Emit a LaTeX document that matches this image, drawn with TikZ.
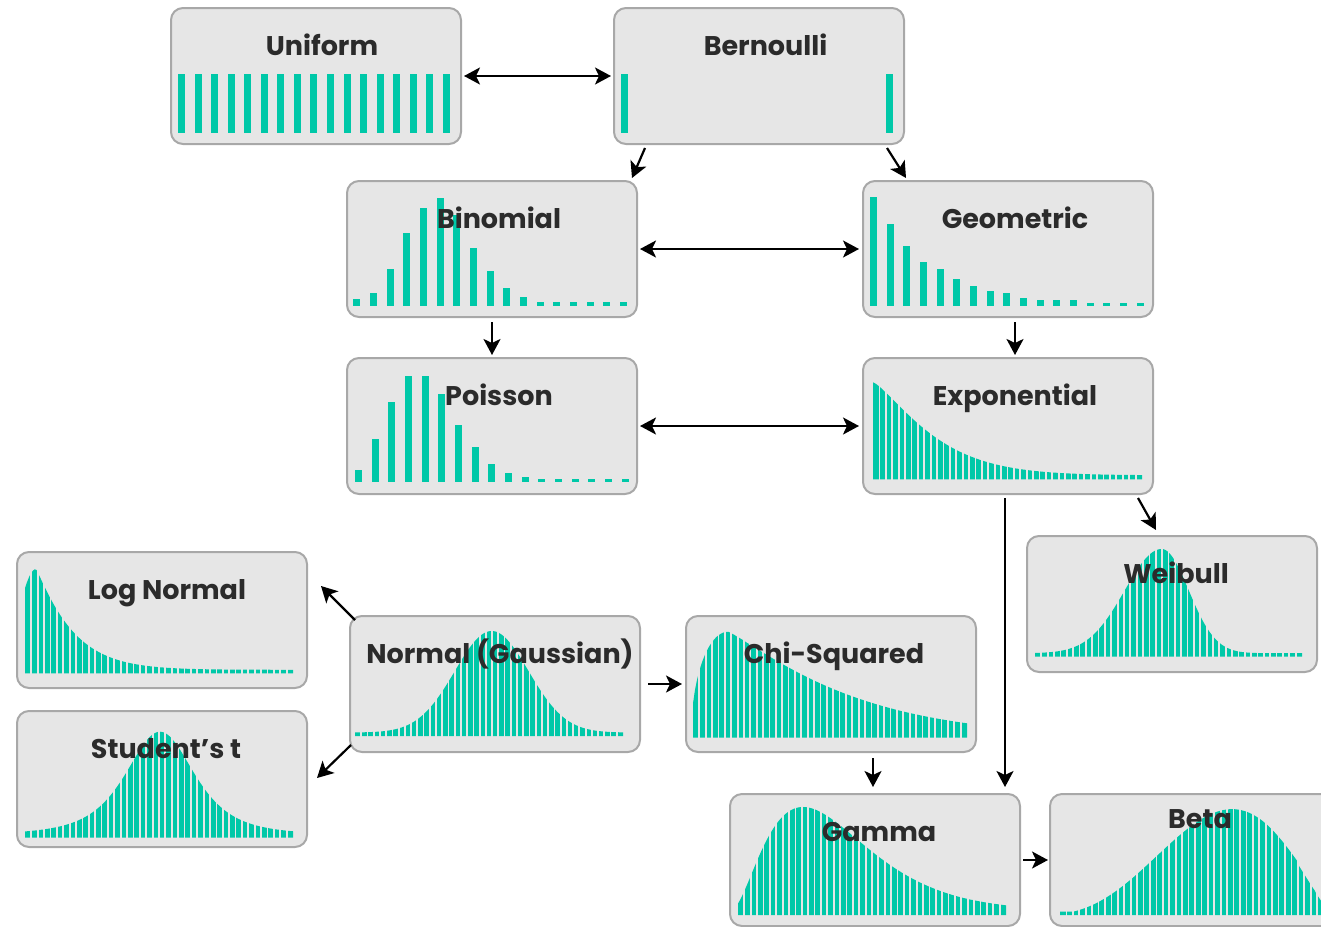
\documentclass[tikz,border=0pt]{standalone}
\usepackage{fontspec}
\setmainfont{Poppins}
\usetikzlibrary{arrows.meta,calc}

\definecolor{barteal}{RGB}{0,200,168}
\definecolor{boxfill}{RGB}{230,230,230}
\definecolor{boxedge}{RGB}{168,168,168}
\definecolor{labelink}{RGB}{43,43,43}

\tikzset{
  distbox/.style={draw=boxedge, line width=2pt, fill=boxfill, rounded corners=12pt,
    minimum width=290pt, minimum height=136pt, inner sep=0pt, anchor=north west},
  distlabel/.style={font=\fontsize{27}{33}\selectfont\bfseries, text=labelink,
    inner sep=0pt, anchor=base},
  bar/.style={fill=barteal},
  bargap/.style={draw=boxfill, line width=1.8pt},
  link/.style={line width=2.2pt, draw=black},
  >={Stealth[length=16pt,width=17pt,inset=4pt]}
}

% discrete bars: first left edge, pitch, baseline, list of heights
\newcommand\discbars[4]{%
  \foreach \hh [count=\k from 0] in {#4} {
    \fill[bar] ({#1+\k*#2},#3) rectangle ++(7,-\hh);
  }}

% dense bars: left edge, right edge, baseline, height function, number of bars
\newcommand\contbars[5]{%
  \fill[bar] (#1,#3) -- plot[domain=#1:#2, samples=140] (\x,{#3-#4(\x)}) -- (#2,#3) -- cycle;
  \pgfmathtruncatemacro\lastgap{#5-1}
  \foreach \k in {1,...,\lastgap} {
    \draw[bargap] ({#1+\k*(#2-#1)/#5},#3+1) -- ++(0,-112);
  }}

\begin{document}
\begin{tikzpicture}[x=1pt,y=-1pt,
  declare function={
    expof(\x)=4+93*exp(-pow(max(\x-873,0.01)/68,1.29));
    lognf(\x)=(\x<36) ? 3.5+100.8*exp(-((\x-36)/24)*((\x-36)/24)) : 3.5+100.8*exp(-pow(max(\x-36,0.01)/38,1.1));
    studf(\x)=3+103/((1+((\x-160)/63)*((\x-160)/63))*(1+((\x-160)/63)*((\x-160)/63)));
    normf(\x)=3.5+101.5*exp(-((\x-491.7)/52)*((\x-491.7)/52));
    weibf(\x)=(\x<1161.7) ? 3.5+104.2*exp(-((\x-1161.7)/52)*((\x-1161.7)/52)) : 3.5+104.2*exp(-((\x-1161.7)/38)*((\x-1161.7)/38));
    chisf(\x)=(\x<728) ? 106*sqrt(max(0,1-((\x-728)/37)*((\x-728)/37))) : 106*exp(-pow(max(\x-728,0.01)/131,1.15));
    gammf(\x)=4+104*((\x-730)/73)*((\x-730)/73)*exp(2-(\x-730)/36.5);
    betaf(\x)=max(3.5,106*pow((\x-1035)/300,3)*pow(1-(\x-1035)/300,1.566)/0.05315);
  }]
\clip (0,0) rectangle (1321,926);

% boxes
\node[distbox] (uni) at (170,7) {};
\node[distbox] (bern) at (613,7) {};
\node[distbox] (binom) at (346,180) {};
\node[distbox] (geom) at (862,180) {};
\node[distbox] (pois) at (346,357) {};
\node[distbox] (expo) at (862,357) {};
\node[distbox] (weib) at (1026,535) {};
\node[distbox] (lognorm) at (16,551) {};
\node[distbox] (stud) at (16,710) {};
\node[distbox] (norm) at (349,615) {};
\node[distbox] (chi) at (685,615) {};
\node[distbox, minimum height=132pt] (gamma) at (729,793) {};
\node[distbox, minimum height=132pt] (beta) at (1049,793) {};

% discrete distributions
\discbars{178}{16.56}{133}{59,59,59,59,59,59,59,59,59,59,59,59,59,59,59,59,59}
\fill[bar] (621,133) rectangle ++(7,-59);
\fill[bar] (886,133) rectangle ++(7,-59);
\discbars{353.3}{16.67}{306}{6.7,13.3,37,72.7,98,108,91,58.3,35,18.3,8.7,3.7,3.7,3.7,3.7,3.7,3.7}
\discbars{870}{16.67}{305.7}{108.3,81.3,60,43.3,36.3,26.7,20,15,13,8,5.7,5.7,5.7,3,3,3,3}
\discbars{355}{16.67}{482.3}{12.3,43,80.6,106.6,106.6,88,57,35.6,18.6,9.3,5,3,3,3,3,3,3}

% continuous distributions
\contbars{873}{1142}{479.3}{expof}{42}
\contbars{25}{293}{673.3}{lognf}{42}
\contbars{25}{293}{837.7}{studf}{42}
\contbars{355}{623}{736}{normf}{43}
\contbars{1035}{1302}{656.7}{weibf}{42}
\contbars{693}{967}{737.7}{chisf}{43}
\contbars{738}{1006}{915}{gammf}{42}
\contbars{1060}{1330}{915}{betaf}{42}

% labels
\node[distlabel] (unil) at ($(uni.north)+(6,48)$) {Uniform};
\node[distlabel] (bernl) at ($(bern.north)+(6.5,48)$) {Bernoulli};
\node[distlabel] (binoml) at ($(binom.north)+(7,48)$) {Binomial};
\node[distlabel] (geoml) at ($(geom.north)+(7,48)$) {Geometric};
\node[distlabel] (poisl) at ($(pois.north)+(7,48)$) {Poisson};
\node[distlabel] (expol) at ($(expo.north)+(7,48)$) {Exponential};
\node[distlabel] (weibl) at ($(weib.north)+(4,48)$) {Weibull};
\node[distlabel] (lognorml) at ($(lognorm.north)+(5,48)$) {Log Normal};
\node[distlabel] (studl) at ($(stud.north)+(4,48)$) {Student’s t};
\node[distlabel] (norml) at ($(norm.north)+(5,48)$) {Normal (Gaussian)};
\node[distlabel] (chil) at ($(chi.north)+(3,48)$) {Chi-Squared};
\node[distlabel] (gammal) at ($(gamma.north)+(4,48)$) {Gamma};
\node[distlabel] (betal) at ($(beta.north)+(5,35)$) {Beta};

% connectors
\draw[link,<->,shorten <=2pt,shorten >=2pt] (uni.east) -- (bern.west);
\draw[link,->] ($(bern.south west)+(32,3)$) -- ($(binom.north east)+(-6,-2)$);
\draw[link,->] ($(bern.south east)+(-18,3)$) -- ($(geom.north west)+(44,-2)$);
\draw[link,<->,shorten <=2pt,shorten >=3pt] (binom.east) -- (geom.west);
\draw[link,->,shorten <=4pt,shorten >=2pt] (binom.south) -- (pois.north);
\draw[link,->,shorten <=4pt,shorten >=2pt] ([xshift=7pt]geom.south) -- ([xshift=7pt]expo.north);
\draw[link,<->,shorten <=2pt,shorten >=3pt] (pois.east) -- (expo.west);
\draw[link,->] ($(expo.south east)+(-16,3)$) -- ($(weib.north west)+(130,-5)$);
\draw[link,->,shorten <=3pt,shorten >=6pt] ([xshift=-3pt]expo.south) -- ([xshift=-3pt]expo.south |- gamma.north);
\draw[link,->] ($(norm.north west)+(6,5)$) -- ($(lognorm.north east)+(13,35)$);
\draw[link,->] ($(norm.south west)+(2,-8)$) -- ($(stud.north east)+(9,68)$);
\draw[link,->,shorten <=7pt,shorten >=3pt] (norm.east) -- (chi.west);
\draw[link,->,shorten <=5pt,shorten >=6pt] ([xshift=-2pt]chi.south -| gamma.north) -- ([xshift=-2pt]gamma.north);
\draw[link,->,shorten <=2pt,shorten >=1pt] (gamma.east) -- (beta.west);
\end{tikzpicture}
\end{document}
